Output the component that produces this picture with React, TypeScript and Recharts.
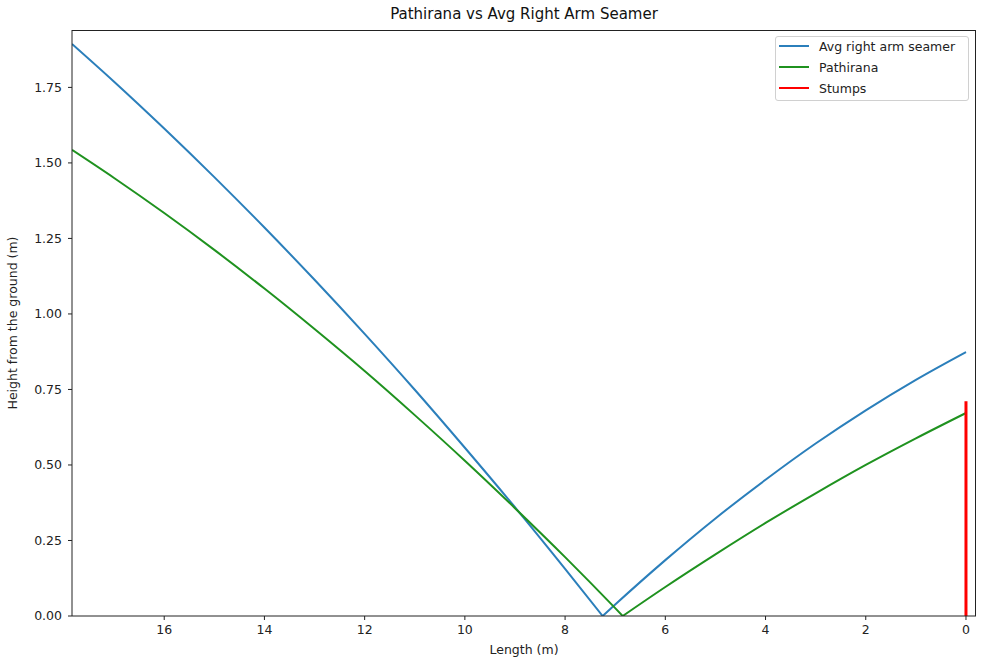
import React from "react";
import {
  LineChart,
  Line,
  XAxis,
  YAxis,
  Label,
} from "recharts";

// length from the stumps (m) and height above the ground (m)
const avgBefore = [
  { x: 17.84, y: 1.894 },
  { x: 17, y: 1.769 },
  { x: 16, y: 1.614 },
  { x: 15, y: 1.453 },
  { x: 14, y: 1.286 },
  { x: 13, y: 1.113 },
  { x: 12, y: 0.934 },
  { x: 11, y: 0.749 },
  { x: 10, y: 0.557 },
  { x: 9, y: 0.36 },
  { x: 8, y: 0.156 },
  { x: 7.25, y: 0 },
];

const avgAfter = [
  { x: 7.25, y: 0 },
  { x: 7, y: 0.038 },
  { x: 6, y: 0.185 },
  { x: 5, y: 0.323 },
  { x: 4, y: 0.451 },
  { x: 3, y: 0.571 },
  { x: 2, y: 0.681 },
  { x: 1, y: 0.782 },
  { x: 0, y: 0.874 },
];

const pathiranaBefore = [
  { x: 17.84, y: 1.543 },
  { x: 17, y: 1.45 },
  { x: 16, y: 1.334 },
  { x: 15, y: 1.212 },
  { x: 14, y: 1.084 },
  { x: 13, y: 0.95 },
  { x: 12, y: 0.811 },
  { x: 11, y: 0.665 },
  { x: 10, y: 0.514 },
  { x: 9, y: 0.357 },
  { x: 8, y: 0.195 },
  { x: 7, y: 0.026 },
  { x: 6.85, y: 0 },
];

const pathiranaAfter = [
  { x: 6.85, y: 0 },
  { x: 6, y: 0.096 },
  { x: 5, y: 0.204 },
  { x: 4, y: 0.308 },
  { x: 3, y: 0.406 },
  { x: 2, y: 0.5 },
  { x: 1, y: 0.588 },
  { x: 0, y: 0.672 },
];

const stumps = [
  { x: 0, y: 0 },
  { x: 0, y: 0.711 },
];

const xTicks = [0, 2, 4, 6, 8, 10, 12, 14, 16];
const yTicks = [0, 0.25, 0.5, 0.75, 1, 1.25, 1.5, 1.75];

const blue = "#2b7fbb";
const green = "#1f921f";
const red = "#ff0000";

const legendItems = [
  { name: "Avg right arm seamer", color: blue },
  { name: "Pathirana", color: green },
  { name: "Stumps", color: red },
];

const font = "DejaVu Sans, sans-serif";
const tickStyle = { fontSize: 12.5, fill: "#222", fontFamily: font };

export default function App() {
  return (
    <div style={{ position: "absolute", left: 0, top: 0, width: 1002, height: 672, background: "#fff", fontFamily: font }}>
      <div
        style={{
          position: "absolute",
          left: 72,
          width: 904,
          top: 5,
          textAlign: "center",
          fontSize: 15,
          color: "#111",
        }}
      >
        Pathirana vs Avg Right Arm Seamer
      </div>
      <LineChart width={1002} height={672} margin={{ top: 30, right: 26, left: 12, bottom: 26 }}>
        <XAxis
          type="number"
          dataKey="x"
          domain={[-0.2, 17.84]}
          reversed
          allowDataOverflow
          ticks={xTicks}
          tick={tickStyle}
          tickSize={4}
          tickMargin={5}
          height={30}
          stroke="#222"
        >
          <Label value="Length (m)" position="insideBottom" offset={-8} style={{ fontSize: 12.5, fill: "#222", fontFamily: font }} />
        </XAxis>
        <YAxis
          type="number"
          dataKey="y"
          domain={[0, 1.94]}
          allowDataOverflow
          ticks={yTicks}
          tickFormatter={(v: number) => v.toFixed(2)}
          tick={tickStyle}
          tickSize={4}
          tickMargin={6}
          width={60}
          stroke="#222"
        >
          <Label
            value="Height from the ground (m)"
            angle={-90}
            position="insideLeft"
            offset={1}
            style={{ textAnchor: "middle", fontSize: 12.5, fill: "#222", fontFamily: font }}
          />
        </YAxis>
        <Line data={avgBefore} dataKey="y" type="monotone" stroke={blue} strokeWidth={2} dot={false} isAnimationActive={false} />
        <Line data={avgAfter} dataKey="y" type="monotone" stroke={blue} strokeWidth={2} dot={false} isAnimationActive={false} />
        <Line data={pathiranaBefore} dataKey="y" type="monotone" stroke={green} strokeWidth={2} dot={false} isAnimationActive={false} />
        <Line data={pathiranaAfter} dataKey="y" type="monotone" stroke={green} strokeWidth={2} dot={false} isAnimationActive={false} />
        <Line data={stumps} dataKey="y" type="linear" stroke={red} strokeWidth={3} dot={false} isAnimationActive={false} />
      </LineChart>
      {/* top and right spines */}
      <div
        style={{
          position: "absolute",
          left: 72,
          top: 30,
          width: 904,
          height: 586,
          boxSizing: "border-box",
          borderTop: "1px solid #222",
          borderRight: "1px solid #222",
          pointerEvents: "none",
        }}
      />
      <div
        style={{
          position: "absolute",
          left: 775,
          top: 36,
          width: 192,
          height: 63,
          border: "1px solid #d0d0d0",
          borderRadius: 3,
          background: "rgba(255,255,255,0.8)",
          fontSize: 12.5,
          color: "#222",
        }}
      >
        {legendItems.map((item, i) => (
          <div key={item.name} style={{ position: "absolute", left: 3, top: 0 + i * 21, height: 18, display: "flex", alignItems: "center" }}>
            <span style={{ display: "inline-block", width: 30, height: 2, background: item.color, marginRight: 10 }} />
            <span>{item.name}</span>
          </div>
        ))}
      </div>
    </div>
  );
}
